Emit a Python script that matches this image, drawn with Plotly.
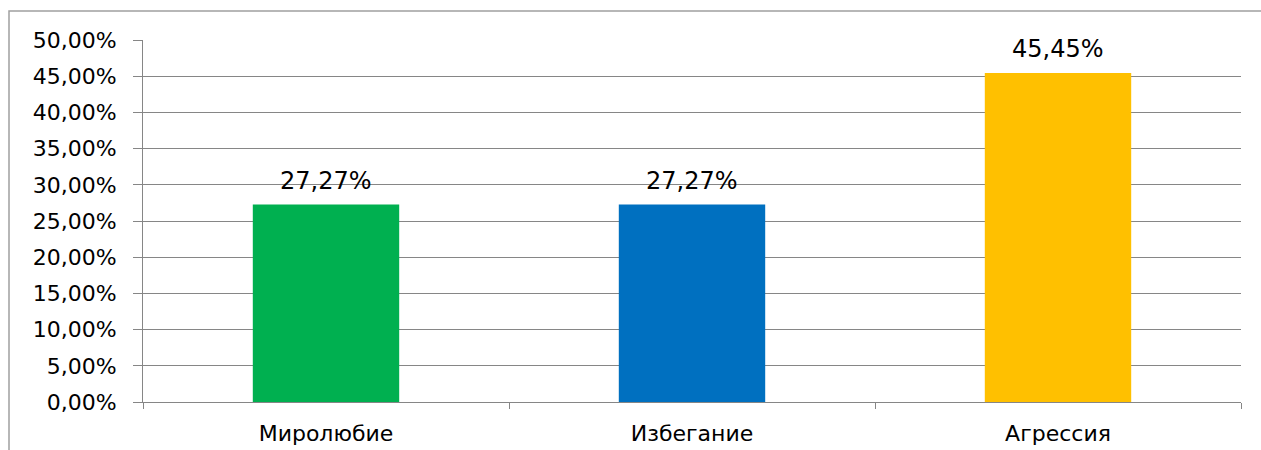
import plotly.graph_objects as go

categories = ["Миролюбие", "Избегание", "Агрессия"]
values = [0.2727, 0.2727, 0.4545]
colors = ["#00B050", "#0070C0", "#FFC000"]
y_ticks = [0, 0.05, 0.10, 0.15, 0.20, 0.25, 0.30, 0.35, 0.40, 0.45, 0.50]

W, H = 1261, 450
L, R, T, B = 143, 20, 40, 48
pw, ph = W - L - R, H - T - B

fig = go.Figure(go.Bar(
    x=categories, y=values,
    marker=dict(color=colors, line=dict(width=0)),
    width=0.4,
    cliponaxis=False,
))

annotations = [
    dict(x=c, y=v, text=f"{v*100:.2f}%".replace(".", ","),
         xref="x", yref="y", showarrow=False, yanchor="bottom",
         yshift=8, font=dict(family="DejaVu Sans", size=24, color="#000000"))
    for c, v in zip(categories, values)
]

fig.update_layout(
    width=W, height=H,
    margin=dict(l=L, r=R, t=T, b=B, autoexpand=False),
    paper_bgcolor="white", plot_bgcolor="white",
    separators=",.",
    showlegend=False,
    font=dict(family="DejaVu Sans", size=22, color="#000000"),
    annotations=annotations,
    xaxis=dict(
        showgrid=False, showline=True, linecolor="#868686", linewidth=1,
        ticks="outside", tickson="boundaries", ticklen=6, tickcolor="#868686",
        ticklabelstandoff=12, automargin=False,
        tickfont=dict(family="DejaVu Sans", size=22, color="#000000"),
    ),
    yaxis=dict(
        range=[0, 0.5], tickvals=y_ticks, tickformat=".2%",
        showgrid=True, gridcolor="#868686", gridwidth=1,
        showline=True, linecolor="#868686", linewidth=1,
        ticks="outside", ticklen=9, tickcolor="#868686",
        ticklabelstandoff=12, zeroline=False, automargin=False,
        tickfont=dict(family="DejaVu Sans", size=22, color="#000000"),
    ),
    shapes=[dict(
        type="rect", xref="paper", yref="paper",
        x0=(9 - L) / pw, x1=(W + 5 - L) / pw,
        y0=(H - B - (H + 5)) / ph, y1=(H - B - 11) / ph,
        line=dict(color="#A0A0A0", width=1.5), fillcolor="rgba(0,0,0,0)",
        layer="below",
    )],
)

fig.write_html(
    "out.html",
    config={"displayModeBar": False},
    post_script=(
        "var s=document.createElement('style');"
        "s.textContent='html,body{margin:0;padding:0;overflow:hidden;height:450px;width:1261px;}"
        "body>div{height:450px;width:1261px;overflow:hidden;line-height:0;font-size:0;}';"
        "document.head.appendChild(s);"
    ),
)
